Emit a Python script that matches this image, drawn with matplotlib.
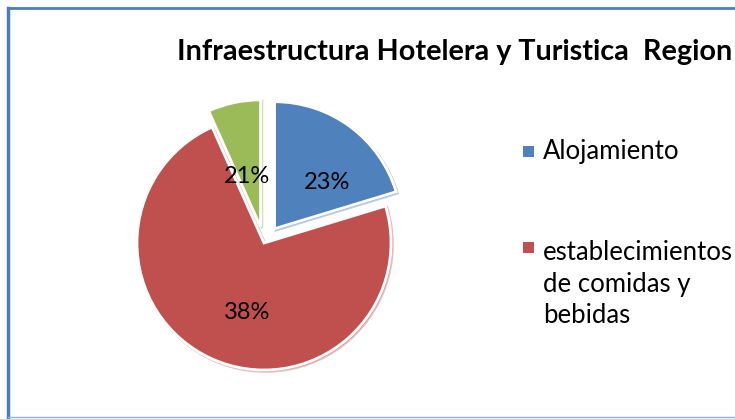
import matplotlib
matplotlib.use("Agg")
import matplotlib.pyplot as plt
from matplotlib.patches import Rectangle
from matplotlib.lines import Line2D

# data (slice sizes from the drawn angles, labels as printed)
categories = ["Alojamiento", "establecimientos\nde comidas y\nbebidas", "otros"]
sizes = [20.3, 73.0, 6.7]
pct_labels = ["23%", "38%", "21%"]
colors = ["#4F81BD", "#C0504D", "#9BBB59"]
explode = [0.14, 0.0, 0.13]

title = "Infraestructura Hotelera y Turistica  Region"

W, H = 735, 419
fig = plt.figure(figsize=(W / 100, H / 100), dpi=100)
fig.patch.set_facecolor("white")

font = ["Lato", "DejaVu Sans"]

# pie centre (264,243) px from top, radius 127 px
cx, cy, r = 264, 243, 127
ax = fig.add_axes([(cx - r) / W, (H - cy - r) / H, 2 * r / W, 2 * r / H])
wedges, _ = ax.pie(sizes, colors=colors, explode=explode, startangle=90,
                   counterclock=False, radius=1.0,
                   wedgeprops=dict(edgecolor="white", linewidth=2.0),
                   shadow=dict(ox=0.008, oy=-0.008, shade=0.12, alpha=0.35))
ax.set_xlim(-1, 1)
ax.set_ylim(-1, 1)
ax.set_aspect("equal")
ax.axis("off")

# percentage labels
label_pos = [(0.50, 0.48), (-0.13, -0.55), (-0.13, 0.52)]
for (x, y), t in zip(label_pos, pct_labels):
    ax.text(x, y, t, ha="center", va="center", fontsize=17, family=font,
            color="black")

# title, runs right up to the edge like the original
fig.text(177 / W, 1 - 52 / H, title, ha="left", va="center", fontsize=20.7,
         fontweight="bold", family=font, color="black")

# legend drawn by hand so the square sits on the first text line
leg_rows = [152, 248]
text_tops = [139, 240]
for row, top, lab, col in zip(leg_rows, text_tops, categories[:2], colors[:2]):
    fig.add_artist(Rectangle((523 / W, 1 - (row + 5) / H), 11 / W, 11 / H,
                             transform=fig.transFigure, facecolor=col,
                             edgecolor="none"))
    fig.text(543 / W, 1 - top / H, lab, ha="left", va="top",
             fontsize=18.5, family=font, color="black", linespacing=1.33)

# chart frame (only left, top and bottom visible)
fig.add_artist(Line2D([8 / W, 8 / W], [1 - 8 / H, 1 - 417 / H],
                      transform=fig.transFigure, color="#4A7EBB", lw=2.5))
fig.add_artist(Line2D([8 / W, 1], [1 - 8 / H, 1 - 8 / H],
                      transform=fig.transFigure, color="#4A7EBB", lw=2.0))
fig.add_artist(Line2D([8 / W, 1], [1 - 417 / H, 1 - 417 / H],
                      transform=fig.transFigure, color="#8DB3E2", lw=1.0))

fig.savefig("out.png", dpi=100, facecolor="white")
